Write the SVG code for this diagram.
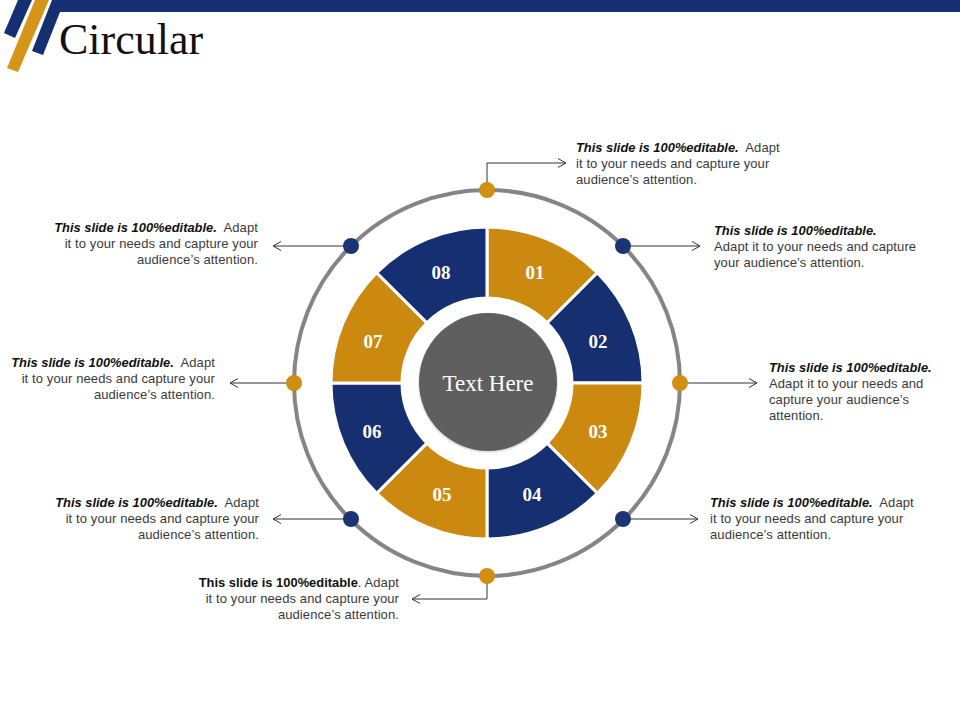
<svg xmlns="http://www.w3.org/2000/svg" width="960" height="720" viewBox="0 0 960 720">
<style>
.t{font-family:"Liberation Sans",Arial,sans-serif;font-size:13px;letter-spacing:0.1px;fill:#3a3a3a}
.b{font-weight:bold;font-style:italic;fill:#111;font-size:12.9px;letter-spacing:0}
.bb{font-weight:bold;fill:#111;font-size:12.9px;letter-spacing:0}
.num{font-family:"Liberation Serif","DejaVu Serif",serif;font-weight:bold;font-size:19px;fill:#fff;text-anchor:middle}
.or{fill:#CC8910}
.bl{fill:#152F70}
.seg{stroke:#fff;stroke-width:3;stroke-linejoin:miter}
.con{fill:none;stroke:#333;stroke-width:1}
</style>
<defs>
<marker id="arr" markerUnits="userSpaceOnUse" markerWidth="12" markerHeight="12" refX="9" refY="5" orient="auto">
<path d="M1,0.5 L9,5 L1,9.5" fill="none" stroke="#333" stroke-width="1"/>
</marker>
</defs>
<rect width="960" height="720" fill="#fff"/>
<g id="header">
<polygon points="18,0 32,0 15,38 4,33" fill="#152F70"/>
<polygon points="35,0 49,0 18,72 7,68" fill="#D4951A"/>
<polygon points="52,0 960,0 960,12 60,12 43,55 32,51" fill="#152F70"/>
<text x="59" y="54" font-family="'Liberation Serif','DejaVu Serif',serif" font-size="44" fill="#111">Circular</text>
</g>
<g id="outer-ring">
<circle cx="487" cy="383" r="193" fill="none" stroke="#858585" stroke-width="4"/>
</g>
<g id="connectors">
<path class="con" d="M487,190 V163 H566" marker-end="url(#arr)"/>
<path class="con" d="M623,246 H700" marker-end="url(#arr)"/>
<path class="con" d="M680,383 H757" marker-end="url(#arr)"/>
<path class="con" d="M623,519 H698" marker-end="url(#arr)"/>
<path class="con" d="M487,576 V599 H412" marker-end="url(#arr)"/>
<path class="con" d="M351,519 H273" marker-end="url(#arr)"/>
<path class="con" d="M294,383 H230" marker-end="url(#arr)"/>
<path class="con" d="M351,246 H273" marker-end="url(#arr)"/>
</g>
<g id="seg01"><path class="seg or" d="M487,227 A156,156 0 0 1 597.31,272.69 L547.10,322.90 A85,85 0 0 0 487,298 Z"/><text class="num" x="535" y="279">01</text></g>
<g id="seg02"><path class="seg bl" d="M597.31,272.69 A156,156 0 0 1 643,383 L572,383 A85,85 0 0 0 547.10,322.90 Z"/><text class="num" x="598" y="348">02</text></g>
<g id="seg03"><path class="seg or" d="M643,383 A156,156 0 0 1 597.31,493.31 L547.10,443.10 A85,85 0 0 0 572,383 Z"/><text class="num" x="598" y="438">03</text></g>
<g id="seg04"><path class="seg bl" d="M597.31,493.31 A156,156 0 0 1 487,539 L487,468 A85,85 0 0 0 547.10,443.10 Z"/><text class="num" x="532" y="501">04</text></g>
<g id="seg05"><path class="seg or" d="M487,539 A156,156 0 0 1 376.69,493.31 L426.90,443.10 A85,85 0 0 0 487,468 Z"/><text class="num" x="442" y="501">05</text></g>
<g id="seg06"><path class="seg bl" d="M376.69,493.31 A156,156 0 0 1 331,383 L402,383 A85,85 0 0 0 426.90,443.10 Z"/><text class="num" x="372" y="438">06</text></g>
<g id="seg07"><path class="seg or" d="M331,383 A156,156 0 0 1 376.69,272.69 L426.90,322.90 A85,85 0 0 0 402,383 Z"/><text class="num" x="373" y="348">07</text></g>
<g id="seg08"><path class="seg bl" d="M376.69,272.69 A156,156 0 0 1 487,227 L487,298 A85,85 0 0 0 426.90,322.90 Z"/><text class="num" x="441" y="279">08</text></g>
<g id="center">
<circle cx="488" cy="383" r="70" fill="#e6e6e6"/>
<circle cx="488" cy="382" r="69" fill="#5F5F5F"/>
<text x="488" y="391" text-anchor="middle" font-family="'Liberation Serif','DejaVu Serif',serif" font-size="23" fill="#fff">Text Here</text>
</g>
<g id="dots">
<circle cx="487" cy="190" r="8" fill="#D08E12"/>
<circle cx="623" cy="246" r="8" fill="#1A3475"/>
<circle cx="680" cy="383" r="8" fill="#D08E12"/>
<circle cx="623" cy="519" r="8" fill="#1A3475"/>
<circle cx="487" cy="576" r="8" fill="#D08E12"/>
<circle cx="351" cy="519" r="8" fill="#1A3475"/>
<circle cx="294" cy="383" r="8" fill="#D08E12"/>
<circle cx="351" cy="246" r="8" fill="#1A3475"/>
</g>
<g id="label-top-right">
<text class="t"><tspan x="576" y="152" class="b">This slide is 100%editable.</tspan><tspan>&#160; Adapt</tspan><tspan x="576" y="168">it to your needs and capture your</tspan><tspan x="576" y="184">audience’s attention.</tspan></text>
</g>
<g id="label-upper-right">
<text class="t"><tspan x="714" y="235" class="b">This slide is 100%editable.</tspan><tspan x="714" y="251">Adapt it to your needs and capture</tspan><tspan x="714" y="267">your audience’s attention.</tspan></text>
</g>
<g id="label-right">
<text class="t"><tspan x="769" y="372" class="b">This slide is 100%editable.</tspan><tspan x="769" y="388">Adapt it to your needs and</tspan><tspan x="769" y="404">capture your audience’s</tspan><tspan x="769" y="420">attention.</tspan></text>
</g>
<g id="label-lower-right">
<text class="t"><tspan x="710" y="507" class="b">This slide is 100%editable.</tspan><tspan>&#160; Adapt</tspan><tspan x="710" y="523">it to your needs and capture your</tspan><tspan x="710" y="539">audience’s attention.</tspan></text>
</g>
<g id="label-bottom">
<text class="t" text-anchor="end"><tspan x="399" y="587" class="bb">This slide is 100%editable</tspan><tspan>. Adapt</tspan><tspan x="399" y="603">it to your needs and capture your</tspan><tspan x="399" y="619">audience’s attention.</tspan></text>
</g>
<g id="label-lower-left">
<text class="t" text-anchor="end"><tspan x="259" y="507" class="b">This slide is 100%editable.</tspan><tspan>&#160; Adapt</tspan><tspan x="259" y="523">it to your needs and capture your</tspan><tspan x="259" y="539">audience’s attention.</tspan></text>
</g>
<g id="label-left">
<text class="t" text-anchor="end"><tspan x="215" y="367" class="b">This slide is 100%editable.</tspan><tspan>&#160; Adapt</tspan><tspan x="215" y="383">it to your needs and capture your</tspan><tspan x="215" y="399">audience’s attention.</tspan></text>
</g>
<g id="label-upper-left">
<text class="t" text-anchor="end"><tspan x="258" y="232" class="b">This slide is 100%editable.</tspan><tspan>&#160; Adapt</tspan><tspan x="258" y="248">it to your needs and capture your</tspan><tspan x="258" y="264">audience’s attention.</tspan></text>
</g>
</svg>
